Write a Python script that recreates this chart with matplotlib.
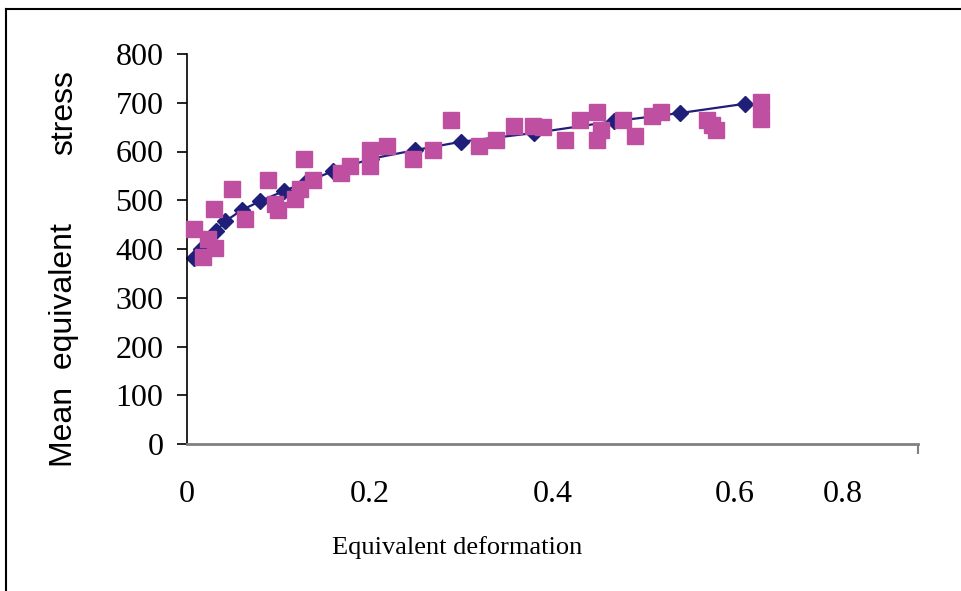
import numpy as np
import matplotlib.pyplot as plt
from matplotlib.lines import Line2D

# mean curve (smoothed line with diamonds)
mean_strain = [0.008, 0.015, 0.032, 0.042, 0.060, 0.080, 0.106, 0.130,
               0.160, 0.201, 0.250, 0.300, 0.380, 0.467, 0.540, 0.611]
mean_stress = [381, 400, 437, 457, 480, 498, 519, 537,
               560, 585, 603, 620, 638, 662, 679, 698]

# measured points (squares)
meas_strain = [0.008, 0.023, 0.030, 0.031, 0.018, 0.049, 0.064, 0.089,
               0.096, 0.100, 0.118, 0.124, 0.128, 0.138, 0.169, 0.178,
               0.200, 0.200, 0.219, 0.247, 0.269, 0.289, 0.320, 0.338,
               0.358, 0.379, 0.390, 0.414, 0.430, 0.449, 0.453, 0.449,
               0.477, 0.490, 0.509, 0.519, 0.569, 0.575, 0.579, 0.628, 0.628]
meas_stress = [441, 420, 482, 402, 384, 523, 462, 542,
               492, 480, 503, 523, 585, 542, 556, 570,
               603, 570, 611, 585, 603, 665, 611, 624,
               652, 652, 650, 624, 665, 681, 644, 624,
               665, 632, 673, 681, 665, 654, 644, 702, 667]

yticks = [0, 100, 200, 300, 400, 500, 600, 700, 800]
xtick_marks = [0, 0.2, 0.4, 0.6, 0.8]
xtick_label_pos = [0, 0.2, 0.4, 0.6, 0.718]
xtick_labels = ['0', '0.2', '0.4', '0.6', '0.8']

navy = '#1f1f7a'
pink = '#bf4fa0'
serif = 'Liberation Serif'

fig = plt.figure(figsize=(9.61, 5.91), dpi=100)
ax = fig.add_axes([187/961, 1 - 444/591, 731/961, 390/591])

ax.plot(mean_strain, mean_stress, color=navy, lw=1.6, marker='D', ms=8,
        mec=navy, mfc=navy, zorder=2, clip_on=False)
ax.plot(meas_strain, meas_stress, ls='none', marker='s', ms=11,
        mfc=pink, mec=pink, zorder=3, clip_on=False)

ax.set_xlim(0, 0.8)
ax.set_ylim(0, 800)

for s in ['top', 'right']:
    ax.spines[s].set_visible(False)
ax.spines['left'].set_color('black')
ax.spines['left'].set_linewidth(1.2)
ax.spines['bottom'].set_color('#808080')
ax.spines['bottom'].set_linewidth(2)

ax.set_yticks(yticks)
ax.set_yticklabels([str(v) for v in yticks], fontfamily=serif, fontsize=23)
ax.tick_params(axis='y', direction='out', length=7, width=1.2, pad=10,
               color='black')

# labels sit where the original put them, tick marks go on minor ticks
ax.set_xticks(xtick_label_pos)
ax.set_xticklabels(xtick_labels, fontfamily=serif, fontsize=23)
ax.tick_params(axis='x', which='major', length=0, pad=26)
ax.set_xticks(xtick_marks, minor=True)
ax.tick_params(axis='x', which='minor', direction='out', length=7, width=1.5,
               color='#808080')

fig.text(457/961, 1 - 554/591, 'Equivalent deformation', fontfamily=serif,
         fontsize=19, ha='center', va='baseline')

fig.text(64/961, 1 - 467/591, 'Mean  equivalent', fontfamily='Liberation Sans',
         fontsize=23, rotation=90, ha='center', va='bottom')
fig.text(64/961, 1 - 70/591, 'stress', fontfamily='Liberation Sans',
         fontsize=23, rotation=90, ha='center', va='top')

# outer frame (top and left edges only)
fig.add_artist(Line2D([6/961, 1], [1 - 9/591, 1 - 9/591], color='black', lw=1.5))
fig.add_artist(Line2D([6/961, 6/961], [0, 1 - 9/591], color='black', lw=1.5))

fig.savefig('out.png', dpi=100)
